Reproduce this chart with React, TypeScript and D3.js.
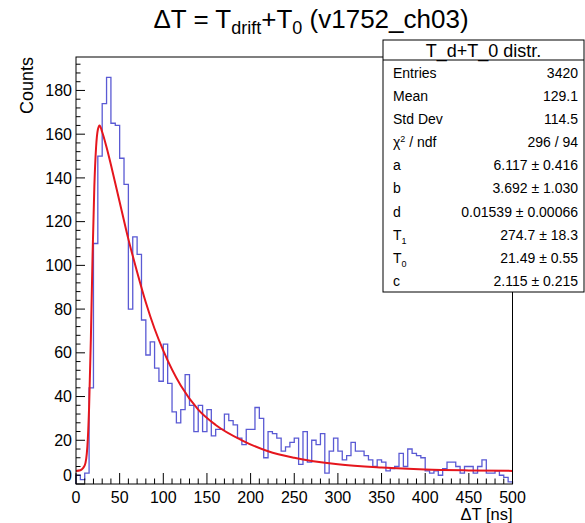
import React from 'react';
import * as d3 from 'd3';

// counts per 5 ns bin, 0..500 ns
const binCounts = [
  4, 2, 5, 44, 110, 150, 174, 186, 165, 164,
  149, 137, 80, 113, 105, 75, 59, 65, 53, 47,
  64, 46, 33, 28, 34, 50, 36, 24, 36, 24,
  34, 22, 25, 25, 32, 29, 27, 21, 18, 25,
  25, 35, 30, 12, 24, 23, 21, 15, 17, 19,
  21, 9, 24, 10, 20, 18, 23, 5, 15, 21,
  15, 11, 13, 19, 15, 15, 13, 11, 8, 11,
  10, 6, 7, 8, 14, 8, 16, 14, 13, 12,
  6, 5, 6, 4, 7, 10, 10, 8, 5, 8,
  8, 5, 8, 11, 5, 5, 6, 4, 3, 1,
];
const binWidth = 5;

// fit curve
const fitTimes = [0, 5, 10, 13, 15, 17, 19, 21, 23, 25, 27, 30, 35, 40, 50, 60, 70, 80, 90, 100, 120, 140, 160, 190, 220, 250, 300, 350, 400, 450, 500];
const fitValues = [6, 6.3, 8.5, 17, 35, 66, 105, 136, 154, 162, 164, 161, 154, 146, 129, 112, 97, 83, 71, 61, 45, 34, 27, 20, 15, 12, 9, 7.5, 6.6, 6.2, 6];

const xTickLabels = [0, 50, 100, 150, 200, 250, 300, 350, 400, 450, 500];
const yTickLabels = [0, 20, 40, 60, 80, 100, 120, 140, 160, 180];

const statLabels = ['Entries', 'Mean', 'Std Dev', 'chi', 'a', 'b', 'd', 'T1', 'T0', 'c'];
const statValues = ['3420', '129.1', '114.5', '296 / 94', '6.117 \u00b1 0.416', '3.692 \u00b1 1.030', '0.01539 \u00b1 0.00066', '274.7 \u00b1 18.3', '21.49 \u00b1 0.55', '2.115 \u00b1 0.215'];

const FONT = "'Liberation Sans', Arial, Helvetica, sans-serif";

function StatLabel({ name }: { name: string }) {
  if (name === 'chi') {
    return <>{'\u03c7'}<tspan fontSize={9} dy={-5}>2</tspan><tspan dy={5}>{' / ndf'}</tspan></>;
  }
  if (name === 'T1' || name === 'T0') {
    return <>T<tspan fontSize={9} dy={4}>{name[1]}</tspan></>;
  }
  return <>{name}</>;
}

export default function App() {
  const W = 585, H = 523;
  const left = 76, right = 512.5, top = 57, bottom = 484;

  const x = d3.scaleLinear().domain([0, 500]).range([left, right]);
  const y = d3.scaleLinear().domain([0, 195.3]).range([bottom, top]);

  // step outline of the histogram
  const steps: [number, number][] = [[0, 0]];
  binCounts.forEach((c, i) => steps.push([i * binWidth, c]));
  steps.push([binCounts.length * binWidth, binCounts[binCounts.length - 1]]);
  steps.push([binCounts.length * binWidth, 0]);
  const histLine = d3.line<[number, number]>()
    .x(d => x(d[0]))
    .y(d => y(d[1]))
    .curve(d3.curveStepAfter);

  const fitLine = d3.line<number>()
    .x((_, i) => x(fitTimes[i]))
    .y(d => y(d))
    .curve(d3.curveMonotoneX);

  const xMinor = d3.range(0, 501, 10);
  const yMinor = d3.range(0, 195, 4);

  const boxL = 383, boxR = 584, boxT = 40, headB = 60, boxB = 292;
  const rowY = (i: number) => 73 + i * 23.1;

  return (
    <svg width={W} height={H} style={{ position: 'absolute', left: 0, top: 0, background: '#fff' }} fontFamily={FONT}>
      <rect x={0} y={0} width={W} height={H} fill="#fff" />

      {/* title */}
      <text x={311} y={28} fontSize={26} textAnchor="middle" fill="#000">
        {'\u0394T = T'}<tspan fontSize={18} dy={6}>drift</tspan>
        <tspan dy={-6}>+T</tspan><tspan fontSize={18} dy={6}>0</tspan>
        <tspan dy={-6}>{' (v1752_ch03)'}</tspan>
      </text>

      {/* histogram */}
      <path d={histLine(steps) || ''} fill="none" stroke="#5a5ad4" strokeWidth={1.3} />

      {/* fit */}
      <path d={fitLine(fitValues) || ''} fill="none" stroke="#e5161d" strokeWidth={2} />

      {/* frame */}
      <rect x={left} y={top} width={right - left} height={bottom - top} fill="none" stroke="#000" strokeWidth={1} />

      {/* x ticks */}
      {xMinor.map(v => (
        <line key={'xm' + v} x1={x(v)} x2={x(v)} y1={bottom} y2={bottom - (v % 50 === 0 ? 11 : 5.5)} stroke="#000" strokeWidth={1} />
      ))}
      {xTickLabels.map(v => (
        <text key={'xl' + v} x={x(v)} y={503} fontSize={16} textAnchor="middle">{v}</text>
      ))}
      <text x={right} y={520} fontSize={16.5} textAnchor="end">{'\u0394T [ns]'}</text>

      {/* y ticks */}
      {yMinor.map(v => (
        <line key={'ym' + v} x1={left} x2={left + (v % 20 === 0 ? 9 : 4.5)} y1={y(v)} y2={y(v)} stroke="#000" strokeWidth={1} />
      ))}
      {yTickLabels.map(v => (
        <text key={'yl' + v} x={72} y={v === 0 ? y(v) - 9 : y(v)} dy="0.35em" fontSize={16} textAnchor="end">{v}</text>
      ))}
      <text transform={`translate(33,${top}) rotate(-90)`} fontSize={18} textAnchor="end">Counts</text>

      {/* stats box */}
      <rect x={boxL} y={boxT} width={boxR - boxL} height={boxB - boxT} fill="#fff" stroke="#000" strokeWidth={1} />
      <line x1={boxL} x2={boxR} y1={headB} y2={headB} stroke="#000" strokeWidth={1} />
      <text x={(boxL + boxR) / 2} y={56.5} fontSize={18} textAnchor="middle">T_d+T_0 distr.</text>
      {statLabels.map((s, i) => (
        <text key={'sl' + i} x={393} y={rowY(i)} dy="0.35em" fontSize={14}><StatLabel name={s} /></text>
      ))}
      {statValues.map((s, i) => (
        <text key={'sv' + i} x={578} y={rowY(i)} dy="0.35em" fontSize={14} textAnchor="end">{s}</text>
      ))}
    </svg>
  );
}
